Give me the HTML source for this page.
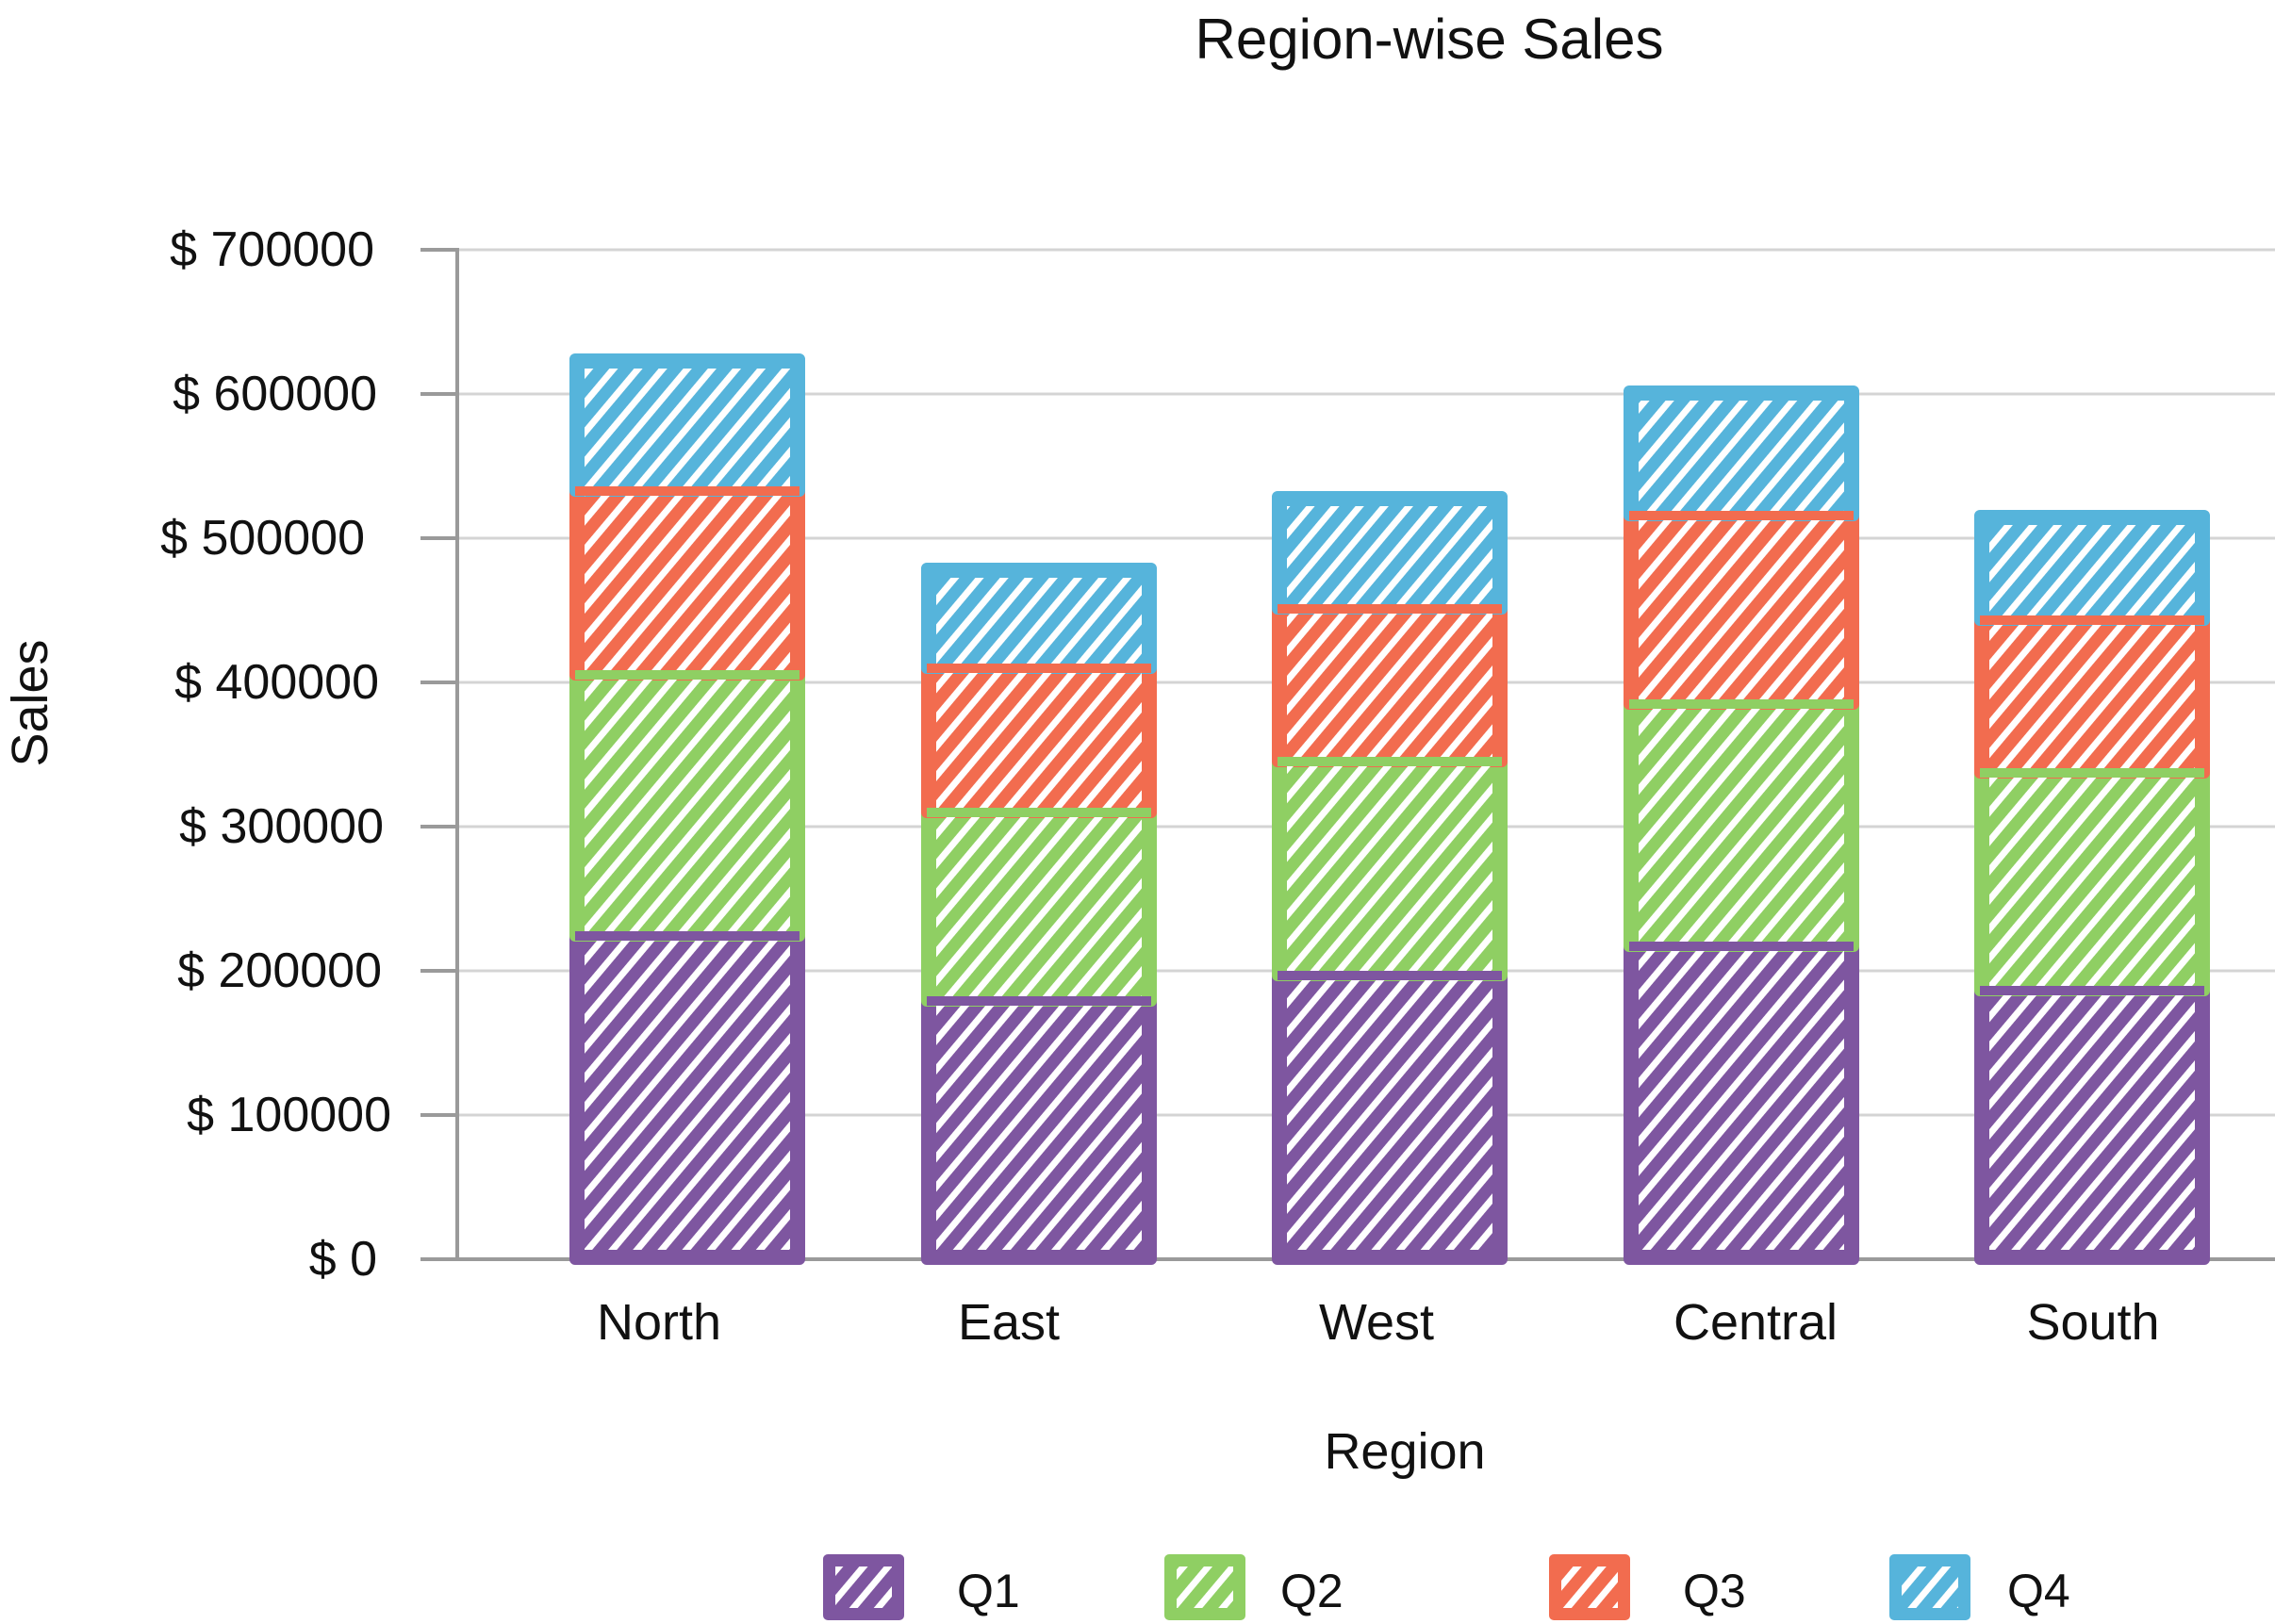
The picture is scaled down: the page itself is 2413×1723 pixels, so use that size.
<!DOCTYPE html>
<html><head><meta charset="utf-8"><style>
html,body{margin:0;padding:0;background:#fff}
svg{display:block}
text{font-family:"Liberation Sans",sans-serif;fill:#111}
</style></head><body>
<svg width="2413" height="1723" viewBox="0 0 2413 1723" xmlns="http://www.w3.org/2000/svg">
<defs>
<pattern id="h" width="20" height="20" patternUnits="userSpaceOnUse" patternTransform="rotate(40)">
<line x1="10" y1="0" x2="10" y2="20" stroke="#fff" stroke-width="7"/>
</pattern>
</defs>
<text x="1516" y="62" font-size="60" text-anchor="middle">Region-wise Sales</text>
<g stroke="#d4d4d4" stroke-width="3">
<line x1="446" y1="265" x2="2413" y2="265"/>
<line x1="446" y1="418" x2="2413" y2="418"/>
<line x1="446" y1="571" x2="2413" y2="571"/>
<line x1="446" y1="724" x2="2413" y2="724"/>
<line x1="446" y1="877" x2="2413" y2="877"/>
<line x1="446" y1="1030" x2="2413" y2="1030"/>
<line x1="446" y1="1183" x2="2413" y2="1183"/>
</g>
<g stroke="#9a9a9a" stroke-width="4">
<line x1="446" y1="1336" x2="2413" y2="1336"/>
<line x1="485" y1="263" x2="485" y2="1336"/>
<line x1="446" y1="265" x2="485" y2="265"/>
<line x1="446" y1="418" x2="485" y2="418"/>
<line x1="446" y1="571" x2="485" y2="571"/>
<line x1="446" y1="724" x2="485" y2="724"/>
<line x1="446" y1="877" x2="485" y2="877"/>
<line x1="446" y1="1030" x2="485" y2="1030"/>
<line x1="446" y1="1183" x2="485" y2="1183"/>
</g>
<g font-size="52" text-anchor="end">
<text x="397" y="282">$ 700000</text>
<text x="400" y="435">$ 600000</text>
<text x="387" y="588">$ 500000</text>
<text x="402" y="741">$ 400000</text>
<text x="407" y="894">$ 300000</text>
<text x="405" y="1047">$ 200000</text>
<text x="415" y="1200">$ 100000</text>
<text x="400" y="1353">$ 0</text>
</g>
<g id="bars" stroke-width="12" stroke-linejoin="round">
<rect x="610" y="993" width="238" height="343" fill="#7e56a0" stroke="#7e56a0"/>
<rect x="610" y="716" width="238" height="277" fill="#8fcf63" stroke="#8fcf63"/>
<rect x="610" y="521" width="238" height="195" fill="#f26c4f" stroke="#f26c4f"/>
<rect x="610" y="381" width="238" height="140" fill="#56b4db" stroke="#56b4db"/>
<rect x="983" y="1062" width="238" height="274" fill="#7e56a0" stroke="#7e56a0"/>
<rect x="983" y="862" width="238" height="200" fill="#8fcf63" stroke="#8fcf63"/>
<rect x="983" y="709" width="238" height="153" fill="#f26c4f" stroke="#f26c4f"/>
<rect x="983" y="603" width="238" height="106" fill="#56b4db" stroke="#56b4db"/>
<rect x="1355" y="1035" width="238" height="301" fill="#7e56a0" stroke="#7e56a0"/>
<rect x="1355" y="808" width="238" height="227" fill="#8fcf63" stroke="#8fcf63"/>
<rect x="1355" y="646" width="238" height="162" fill="#f26c4f" stroke="#f26c4f"/>
<rect x="1355" y="527" width="238" height="119" fill="#56b4db" stroke="#56b4db"/>
<rect x="1728" y="1004" width="238" height="332" fill="#7e56a0" stroke="#7e56a0"/>
<rect x="1728" y="747" width="238" height="257" fill="#8fcf63" stroke="#8fcf63"/>
<rect x="1728" y="547" width="238" height="200" fill="#f26c4f" stroke="#f26c4f"/>
<rect x="1728" y="415" width="238" height="132" fill="#56b4db" stroke="#56b4db"/>
<rect x="2100" y="1051" width="238" height="285" fill="#7e56a0" stroke="#7e56a0"/>
<rect x="2100" y="820" width="238" height="231" fill="#8fcf63" stroke="#8fcf63"/>
<rect x="2100" y="658" width="238" height="162" fill="#f26c4f" stroke="#f26c4f"/>
<rect x="2100" y="547" width="238" height="111" fill="#56b4db" stroke="#56b4db"/>
</g>
<g fill="url(#h)">
<rect x="620" y="391" width="218" height="935"/>
<rect x="993" y="613" width="218" height="713"/>
<rect x="1365" y="537" width="218" height="789"/>
<rect x="1738" y="425" width="218" height="901"/>
<rect x="2110" y="557" width="218" height="769"/>
</g>
<g stroke-width="10">
<line x1="610" y1="993" x2="848" y2="993" stroke="#7e56a0"/>
<line x1="610" y1="716" x2="848" y2="716" stroke="#8fcf63"/>
<line x1="610" y1="521" x2="848" y2="521" stroke="#f26c4f"/>
<line x1="983" y1="1062" x2="1221" y2="1062" stroke="#7e56a0"/>
<line x1="983" y1="862" x2="1221" y2="862" stroke="#8fcf63"/>
<line x1="983" y1="709" x2="1221" y2="709" stroke="#f26c4f"/>
<line x1="1355" y1="1035" x2="1593" y2="1035" stroke="#7e56a0"/>
<line x1="1355" y1="808" x2="1593" y2="808" stroke="#8fcf63"/>
<line x1="1355" y1="646" x2="1593" y2="646" stroke="#f26c4f"/>
<line x1="1728" y1="1004" x2="1966" y2="1004" stroke="#7e56a0"/>
<line x1="1728" y1="747" x2="1966" y2="747" stroke="#8fcf63"/>
<line x1="1728" y1="547" x2="1966" y2="547" stroke="#f26c4f"/>
<line x1="2100" y1="1051" x2="2338" y2="1051" stroke="#7e56a0"/>
<line x1="2100" y1="820" x2="2338" y2="820" stroke="#8fcf63"/>
<line x1="2100" y1="658" x2="2338" y2="658" stroke="#f26c4f"/>
</g>
<g font-size="54" text-anchor="middle">
<text x="699" y="1421">North</text>
<text x="1070" y="1421">East</text>
<text x="1460" y="1421">West</text>
<text x="1862" y="1421">Central</text>
<text x="2220" y="1421">South</text>
<text x="1490" y="1558">Region</text>
<text transform="translate(50,746) rotate(-90)">Sales</text>
</g>
<g stroke-width="10" stroke-linejoin="round">
<rect x="878" y="1654" width="76" height="60" fill="#7e56a0" stroke="#7e56a0"/>
<rect x="1240" y="1654" width="76" height="60" fill="#8fcf63" stroke="#8fcf63"/>
<rect x="1648" y="1654" width="76" height="60" fill="#f26c4f" stroke="#f26c4f"/>
<rect x="2009" y="1654" width="76" height="60" fill="#56b4db" stroke="#56b4db"/>
</g>
<g fill="url(#h)">
<rect x="886" y="1662" width="60" height="44"/>
<rect x="1248" y="1662" width="60" height="44"/>
<rect x="1656" y="1662" width="60" height="44"/>
<rect x="2017" y="1662" width="60" height="44"/>
</g>
<g font-size="50">
<text x="1015" y="1705">Q1</text>
<text x="1358" y="1705">Q2</text>
<text x="1785" y="1705">Q3</text>
<text x="2129" y="1705">Q4</text>
</g>
</svg>
</body></html>
